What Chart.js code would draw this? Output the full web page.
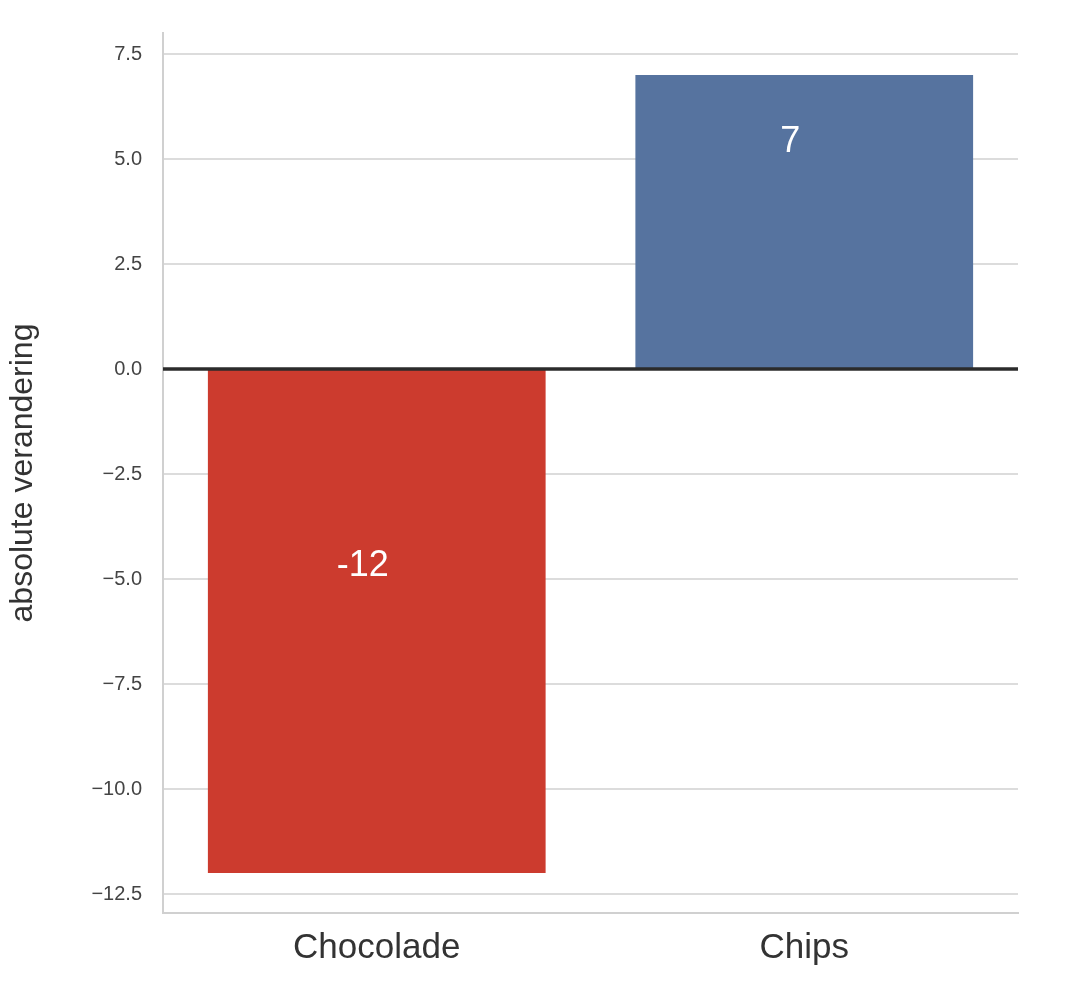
<!DOCTYPE html>
<html><head><meta charset="utf-8">
<script src="https://cdn.jsdelivr.net/npm/chart.js@4"></script>
<style>html,body{margin:0;padding:0;background:#fff}</style>
</head><body>
<canvas id="c" width="1072" height="1008" style="width:1072px;height:1008px"></canvas>
<script>
const categories = ["Chocolade", "Chips"];
const values = [-12, 7];
const valueLabels = ["-12", "7"];
const labelPositions = [-4.7, 5.4];
const barColors = ["#cc3b2e", "#56739f"];
const yTicks = [-12.5, -10, -7.5, -5, -2.5, 0, 2.5, 5, 7.5];

const labelPlugin = {
  id: 'lbl',
  afterDatasetsDraw(chart) {
    const ctx = chart.ctx, meta = chart.getDatasetMeta(0), y = chart.scales.y;
    ctx.save();
    ctx.fillStyle = '#fff';
    ctx.font = '36px "Liberation Sans", Arial, sans-serif';
    ctx.textAlign = 'center'; ctx.textBaseline = 'middle';
    meta.data.forEach((bar, i) => ctx.fillText(valueLabels[i], bar.x - 14, y.getPixelForValue(labelPositions[i])));
    const z = y.getPixelForValue(0);
    ctx.strokeStyle = '#2b2b2b'; ctx.lineWidth = 3.5;
    ctx.beginPath(); ctx.moveTo(chart.chartArea.left, z); ctx.lineTo(chart.chartArea.right, z); ctx.stroke();
    ctx.restore();
  }
};

new Chart(document.getElementById('c'), {
  type: 'bar',
  data: { labels: categories, datasets: [{ data: values, backgroundColor: barColors, barPercentage: 0.79, categoryPercentage: 1 }] },
  options: {
    responsive: false, animation: false,
    layout: { padding: { top: -8, right: 54, left: 0, bottom: 0 } },
    plugins: { legend: { display: false }, tooltip: { enabled: false } },
    scales: {
      x: {
        grid: { display: false, drawTicks: false },
        border: { color: '#d0d0d0', width: 2 },
        ticks: { color: '#333', font: { size: 35, family: '"Liberation Sans", Arial, sans-serif' }, padding: 14 },
        afterFit(s) { s.height = 95; }
      },
      y: {
        min: -12.95, max: 8,
        afterBuildTicks(s) { s.ticks = yTicks.map(v => ({ value: v })); },
        grid: { color: '#dcdcdc', lineWidth: 2, drawTicks: false },
        border: { color: '#d0d0d0', width: 2 },
        ticks: { color: '#444', padding: 21, font: { size: 20, family: '"Liberation Sans", Arial, sans-serif' },
          callback: v => (v < 0 ? '\u2212' + Math.abs(v).toFixed(1) : v.toFixed(1)) },
        title: { display: true, text: 'absolute verandering', color: '#333', padding: { bottom: 8 },
          font: { size: 32, family: '"Liberation Sans", Arial, sans-serif' } },
        afterFit(s) { s.width = 163; }
      }
    }
  },
  plugins: [labelPlugin]
});
</script>
</body></html>
